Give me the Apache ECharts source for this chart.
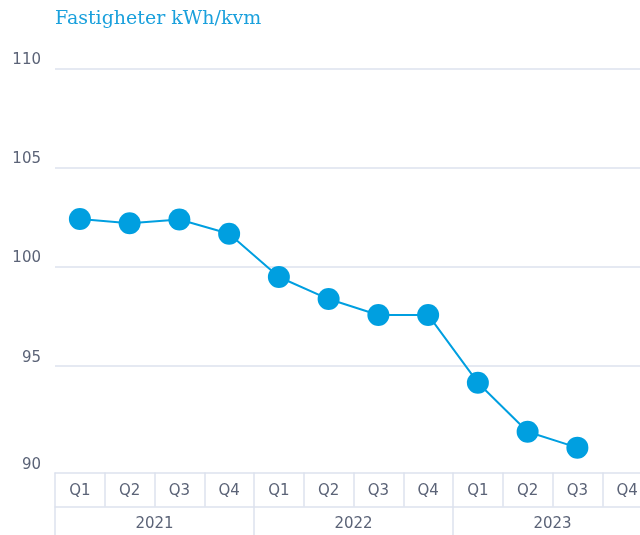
<!DOCTYPE html>
<html>
<head>
<meta charset="utf-8">
<script src="https://cdn.jsdelivr.net/npm/echarts@6/dist/echarts.min.js"></script>
<style>
html,body{margin:0;padding:0;background:#fff;}
#chart{width:640px;height:535px;}
</style>
</head>
<body>
<div id="chart"></div>
<script>
var titleText = 'Fastigheter kWh/kvm';
var quarters = ['Q1','Q2','Q3','Q4','Q1','Q2','Q3','Q4','Q1','Q2','Q3','Q4'];
var years = ['2021','2022','2023'];
var values = [102.41, 102.2, 102.39, 101.67, 99.49, 98.38, 97.58, 97.58, 94.17, 91.7, 90.9, null];
var yMin = 90, yMax = 110, yStep = 5;

var lineCol = '#dde2ee';
var textCol = '#5b6377';
var blue = '#009fe0';
var font = 'DejaVu Sans';

var chart = echarts.init(document.getElementById('chart'), null, {renderer: 'canvas'});
chart.setOption({
  animation: false,
  title: {
    text: titleText,
    left: 50, top: 5,
    textStyle: {fontFamily: 'DejaVu Serif', fontSize: 19, fontWeight: 'normal', color: '#1aa0dc'}
  },
  grid: {left: 55, width: 597, top: 68.3, height: 397.2, containLabel: false, outerBoundsMode: 'none'},
  xAxis: [{
    type: 'category', data: quarters, position: 'bottom', offset: 7,
    boundaryGap: true,
    axisLine: {show: true, lineStyle: {color: lineCol, width: 1.5}},
    axisTick: {show: true, interval: 0, length: 34, lineStyle: {color: lineCol, width: 1.5}},
    axisLabel: {interval: 0, margin: 19, verticalAlign: 'middle', color: textCol, fontFamily: font, fontSize: 15},
    splitLine: {show: false}
  }, {
    type: 'category', data: years, position: 'bottom', offset: 41,
    boundaryGap: true,
    axisLine: {show: true, lineStyle: {color: lineCol, width: 1.5}},
    axisTick: {show: true, interval: 0, length: 34, lineStyle: {color: lineCol, width: 1.5}},
    axisLabel: {interval: 0, margin: 18, verticalAlign: 'middle', color: textCol, fontFamily: font, fontSize: 15},
    splitLine: {show: false}
  }],
  yAxis: [{
    type: 'value', min: yMin, max: yMax, interval: yStep,
    axisLine: {show: false}, axisTick: {show: false},
    axisLabel: {
      margin: 14, color: textCol, fontFamily: font, fontSize: 15, verticalAlign: 'bottom', padding: [0,0,1,0],
      formatter: function (v) { return v === yMin ? '' : String(v); }
    },
    splitLine: {show: true, showMinLine: false, lineStyle: {color: lineCol, width: 1.5}}
  }, {
    type: 'value', min: yMin, max: yMax, interval: yStep, position: 'left',
    axisLine: {show: false}, axisTick: {show: false},
    axisLabel: {
      margin: 14, color: textCol, fontFamily: font, fontSize: 15, verticalAlign: 'middle',
      padding: [0,0,3,0],
      formatter: function (v) { return v === yMin ? String(v) : ''; }
    },
    splitLine: {show: false}
  }],
  series: [{
    type: 'line', data: values, xAxisIndex: 0, yAxisIndex: 0,
    symbol: 'circle', symbolSize: 22,
    lineStyle: {color: blue, width: 2},
    itemStyle: {color: blue},
    connectNulls: false
  }]
});
</script>
</body>
</html>
